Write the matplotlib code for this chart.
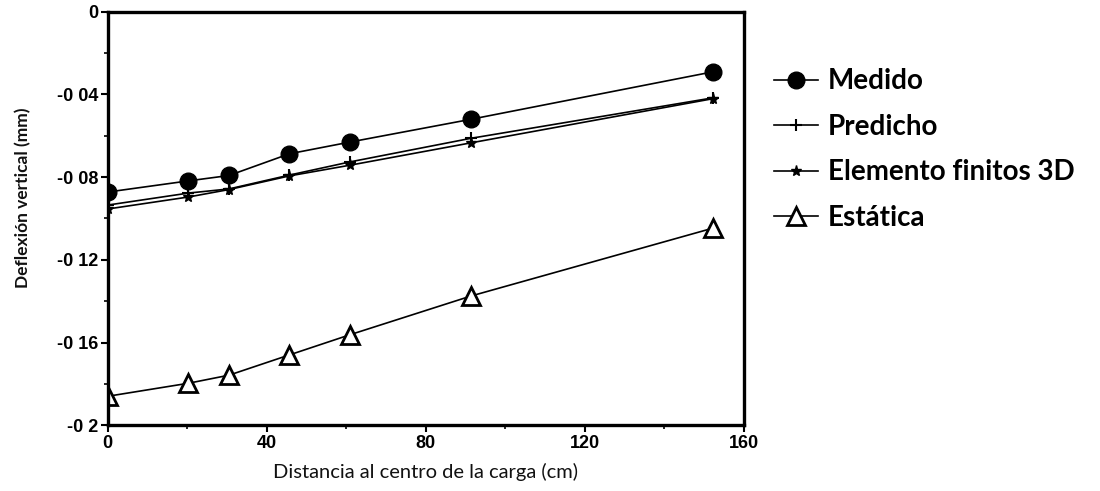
import matplotlib.pyplot as plt
from matplotlib.ticker import MultipleLocator, FixedLocator, FixedFormatter

# distancia de cada sensor (cm) y deflexiones (mm)
distancia = [0, 20.3, 30.5, 45.7, 61.0, 91.4, 152.4]
medido = [-0.0872, -0.0818, -0.0792, -0.0687, -0.0630, -0.0520, -0.0290]
predicho = [-0.0935, -0.0877, -0.0857, -0.0790, -0.0726, -0.0612, -0.0416]
elem_3d = [-0.0954, -0.0896, -0.0860, -0.0794, -0.0742, -0.0634, -0.0420]
estatica = [-0.1860, -0.1797, -0.1758, -0.1660, -0.1562, -0.1375, -0.1046]

y_ticks = [0, -0.04, -0.08, -0.12, -0.16, -0.2]
y_labels = ['0', '-0 04', '-0 08', '-0 12', '-0 16', '-0 2']
x_ticks = [0, 40, 80, 120, 160]

fig = plt.figure(figsize=(11, 4.91), dpi=100)
ax = fig.add_axes([0.098, 0.134, 0.578, 0.842])

ax.plot(distancia, medido, color='black', lw=1.2, marker='o', ms=12,
        label='Medido')
ax.plot(distancia, predicho, color='black', lw=1.2, marker='+', ms=8, mew=1.5,
        label='Predicho')
ax.plot(distancia, elem_3d, color='black', lw=1.2, marker='*', ms=8,
        label='Elemento finitos 3D')
ax.plot(distancia, estatica, color='black', lw=1.2, marker='^', ms=13, mew=2,
        mfc='white', label='Estática')

ax.set_xlim(0, 160)
ax.set_ylim(-0.2, 0)
ax.xaxis.set_major_locator(FixedLocator(x_ticks))
ax.xaxis.set_minor_locator(MultipleLocator(20))
ax.yaxis.set_major_locator(FixedLocator(y_ticks))
ax.yaxis.set_major_formatter(FixedFormatter(y_labels))
ax.yaxis.set_minor_locator(MultipleLocator(0.02))

for s in ax.spines.values():
    s.set_linewidth(2.4)
ax.tick_params(which='major', direction='out', length=5, width=1.5, pad=2)
ax.tick_params(which='minor', direction='out', length=3, width=1.2)
for lab in ax.get_xticklabels() + ax.get_yticklabels():
    lab.set_fontfamily('Liberation Sans')
    lab.set_fontweight('bold')
    lab.set_fontsize(13)

ax.set_xlabel('Distancia al centro de la carga (cm)', fontfamily='Lato',
              fontsize=14.5, color='#111111', labelpad=8)
ax.set_ylabel('Deflexión vertical (mm)', fontfamily='Lato', fontweight='bold',
              fontsize=12.5, color='#111111')
ax.yaxis.set_label_coords(-0.12, 0.55)

ax.legend(loc='upper left', bbox_to_anchor=(1.03, 0.89), frameon=False,
          prop={'family': 'Lato', 'weight': 'bold', 'size': 20},
          handlelength=1.6, handletextpad=0.35, labelspacing=0.7,
          borderaxespad=0)

fig.savefig('out.png', dpi=100)
